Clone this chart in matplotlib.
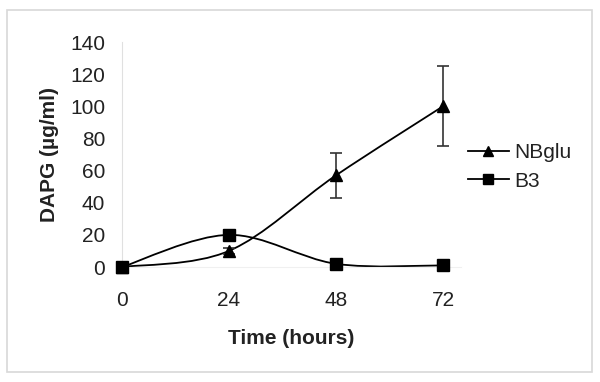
import numpy as np
import matplotlib.pyplot as plt
from matplotlib.path import Path
from matplotlib.patches import PathPatch, Rectangle
from matplotlib.lines import Line2D

plt.rcParams['font.family'] = ['Liberation Sans', 'DejaVu Sans']

# Data
time = [0, 24, 48, 72]
nbglu = [0, 10, 57, 100]
nbglu_err = [0, 2, 14, 25]
b3 = [0, 20, 2, 1]
b3_err = [0, 3, 0, 0]


def smooth_path(x, y, t=0.5):
    # Catmull-Rom style curve through the points, like Excel smoothed lines
    x = np.asarray(x, float)
    y = np.asarray(y, float)
    verts = [(x[0], y[0])]
    codes = [Path.MOVETO]
    n = len(x)
    for i in range(n - 1):
        p0 = (x[max(i - 1, 0)], y[max(i - 1, 0)])
        p1 = (x[i], y[i])
        p2 = (x[i + 1], y[i + 1])
        p3 = (x[min(i + 2, n - 1)], y[min(i + 2, n - 1)])
        c1 = (p1[0] + (p2[0] - p0[0]) * t / 3, p1[1] + (p2[1] - p0[1]) * t / 3)
        c2 = (p2[0] - (p3[0] - p1[0]) * t / 3, p2[1] - (p3[1] - p1[1]) * t / 3)
        verts += [c1, c2, p2]
        codes += [Path.CURVE4] * 3
    return Path(verts, codes)


fig = plt.figure(figsize=(6, 3.82), dpi=100)
fig.patches.append(Rectangle((7 / 600, 10 / 382), 585 / 600, 362 / 382,
                             transform=fig.transFigure, fill=False,
                             edgecolor='#d8d8d8', linewidth=1.2))

ax = fig.add_axes([0.203, 0.301, 0.565, 0.589])

for y, err, m, ms in [(nbglu, nbglu_err, '^', 8), (b3, b3_err, 's', 8)]:
    ax.add_patch(PathPatch(smooth_path(time, y), fill=False, edgecolor='black',
                           linewidth=1.3, zorder=2, clip_on=False))
    ax.errorbar(time, y, yerr=err, fmt='none', ecolor='#333333',
                elinewidth=1.2, capsize=4, capthick=1.2, zorder=3, clip_on=False)
    ax.plot(time, y, m, color='black', markersize=ms, zorder=4, clip_on=False)

ax.set_xlim(0, 76)
ax.set_ylim(0, 140)
ax.set_xticks(time)
ax.set_yticks(range(0, 141, 20))
ax.tick_params(length=0, labelsize=15, pad=17, labelcolor='#222222')
ax.tick_params(axis='y', pad=12)
for s in ['top', 'right']:
    ax.spines[s].set_visible(False)
ax.spines['left'].set_color('#e0e0e0')
ax.spines['bottom'].set_color('#f0f0f0')

ax.set_xlabel('Time (hours)', fontsize=15, fontweight='bold', labelpad=14,
              color='#222222')
ax.set_ylabel('DAPG (µg/ml)', fontsize=15, fontweight='bold', labelpad=8,
              color='#222222')

handles = [Line2D([], [], color='black', marker='^', markersize=7, linewidth=1.3),
           Line2D([], [], color='black', marker='s', markersize=7, linewidth=1.3)]
fig.legend(handles, ['NBglu', 'B3'], loc='center left',
           bbox_to_anchor=(0.748, 0.563), frameon=False, fontsize=15,
           handlelength=2.0, handletextpad=0.25, labelspacing=0.45,
           labelcolor='#222222')

fig.savefig('out.png', dpi=100, facecolor='white')
